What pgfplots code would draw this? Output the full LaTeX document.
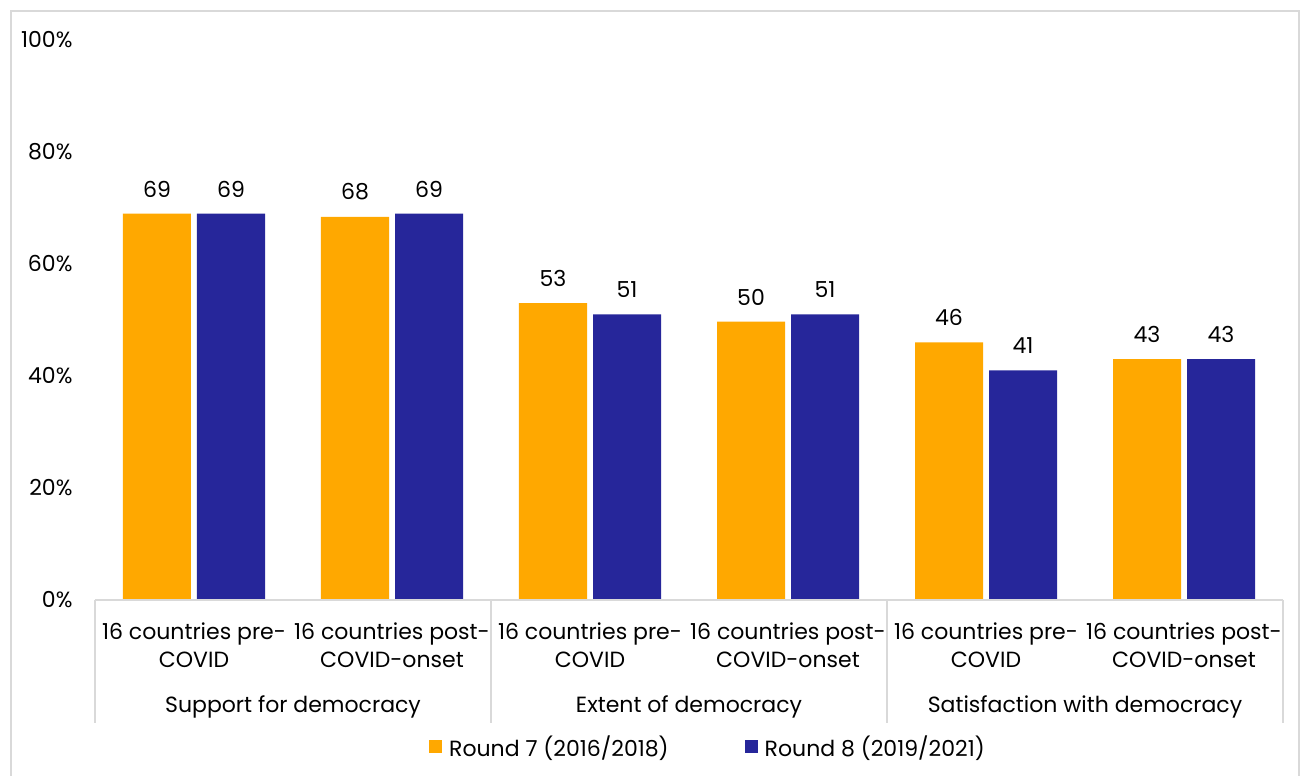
\documentclass[border=0pt]{standalone}
\usepackage{pgfplots}
\pgfplotsset{compat=1.18}
\usepackage{fontspec}
\setmainfont{Poppins}
\definecolor{cor}{RGB}{255,168,0}
\definecolor{cbl}{RGB}{38,38,154}
\definecolor{gl}{RGB}{217,217,217}
\begin{document}
\begin{tikzpicture}[x=1pt,y=1pt]
\useasboundingbox (0,0) rectangle (1304,776);
\draw[gl,line width=1.5pt] (11,-5) -- (11,765) -- (1299,765) -- (1299,-5);
\begin{axis}[
  at={(95pt,176pt)}, anchor=south west,
  scale only axis, width=1188pt, height=560pt,
  ymin=0, ymax=100, ytick={0,20,...,100},
  yticklabel={\pgfmathprintnumber{\tick}\%},
  /pgf/number format/assume math mode=true,
  xmin=-0.5, xmax=5.5,
  xtick={0,...,5},
  xticklabels={{16 countries pre-\\COVID},{16 countries post-\\COVID-onset},{16 countries pre-\\COVID},{16 countries post-\\COVID-onset},{16 countries pre-\\COVID},{16 countries post-\\COVID-onset}},
  xticklabel style={align=center, font=\fontsize{22}{28}\selectfont, yshift=-19pt},
  yticklabel style={font=\fontsize{22}{22}\selectfont, xshift=-19pt, anchor=east},
  major tick length=0pt,
  axis line style={draw=none},
  ybar=6pt, bar width=68pt,
  nodes near coords={\pgfmathprintnumber[fixed,precision=0]{\pgfplotspointmeta}},
  nodes near coords style={font=\fontsize{22}{22}\selectfont, black, yshift=13pt},
  legend style={at={(0.516,-0.262)}, anchor=center, draw=none, font=\fontsize{22}{22}\selectfont, legend columns=2, /tikz/every odd column/.append style={column sep=5pt}, /tikz/every even column/.append style={column sep=74pt}},
  legend image code/.code={\fill[#1] (0pt,-6.5pt) rectangle (13pt,6.5pt);},
  clip=false,
]
\addplot[fill=cor, draw=none] coordinates {(0,69) (1,68.4) (2,53) (3,49.7) (4,46) (5,43)};
\addplot[fill=cbl, draw=none] coordinates {(0,69) (1,69) (2,51) (3,51) (4,41) (5,43)};
\legend{Round 7 (2016/2018), Round 8 (2019/2021)}
\draw[gl, line width=1.2pt] (axis cs:-0.5,0) -- (axis cs:5.5,0);
\pgfplotsinvokeforeach{-0.5,1.5,3.5,5.5}{
  \draw[gl, line width=1.2pt] (axis cs:#1,0) -- ([yshift=-123pt]axis cs:#1,0);
}
\node[font=\fontsize{22}{22}\selectfont] at ([yshift=-107pt]axis cs:0.5,0) {Support for democracy};
\node[font=\fontsize{22}{22}\selectfont] at ([yshift=-107pt]axis cs:2.5,0) {Extent of democracy};
\node[font=\fontsize{22}{22}\selectfont] at ([yshift=-107pt]axis cs:4.5,0) {Satisfaction with democracy};
\end{axis}
\end{tikzpicture}
\end{document}
